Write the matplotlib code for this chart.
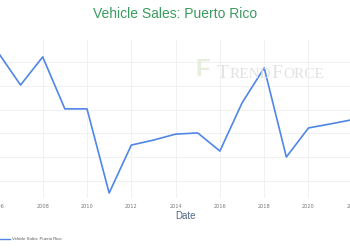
import matplotlib
matplotlib.use("Agg")
import matplotlib.pyplot as plt
from matplotlib.patches import Polygon

# Data (y axis labels are cropped in the source)
years = [2005, 2006, 2007, 2008, 2009, 2010, 2011, 2012, 2013, 2014,
         2015, 2016, 2017, 2018, 2019, 2020, 2021, 2022]
sales = [110.0, 113.8, 100.3, 112.1, 90.3, 90.3, 55.0, 75.1, 77.2, 79.7,
         80.2, 72.6, 92.8, 107.5, 70.1, 82.3, 84.0, 85.8]
tick_years = list(range(2006, 2023, 2))
grid_vals = [60, 70, 80, 90, 100, 110]

W, H = 350, 250
fig = plt.figure(figsize=(3.5, 2.5), dpi=100)
fig.patch.set_facecolor('white')

# plot area runs past both edges of the picture (cropped screenshot)
left_px, right_px = -30, 380
top_px, bottom_px = 40, 198
ax = fig.add_axes([left_px / W, 1 - bottom_px / H,
                   (right_px - left_px) / W, (bottom_px - top_px) / H])

line_color = '#4f86e8'
ax.plot(years, sales, color=line_color, linewidth=1.2, label='Vehicle Sales: Puerto Rico')

ax.set_xlim(2004.718, 2023.228)
ax.set_ylim(52.9, 119.2)
ax.set_xticks(tick_years)
ax.set_xticklabels([str(y) for y in tick_years])
ax.set_yticks(grid_vals)
ax.tick_params(axis='x', length=0, labelsize=3.6, labelcolor='#777777', pad=4)
ax.tick_params(axis='y', length=0, labelleft=False)
ax.grid(True, color='#efefef', linewidth=0.6)
ax.set_axisbelow(True)
for s in ax.spines.values():
    s.set_visible(False)

# watermark, small-caps look built from pieces
renderer = fig.canvas.get_renderer()
x = 217
for piece, size in [('T', 14), ('REND', 11), ('F', 14), ('ORCE', 11)]:
    t = fig.text(x / W, 1 - 78 / H, piece, family='Liberation Serif', fontsize=size,
                 color='#e2e2e2', ha='left', va='baseline', zorder=0)
    x += t.get_window_extent(renderer).width + 0.5
# logo: grey slanted block and a pale green F
logo = [(186, 82), (191, 58), (197, 58), (192, 82)]
fig.add_artist(Polygon([(px / W, 1 - py / H) for px, py in logo],
                       closed=True, transform=fig.transFigure,
                       facecolor='#ececec', edgecolor='none', zorder=0))
fig.text(203 / W, 1 - 70 / H, 'F', family='Liberation Sans', fontsize=17, weight='bold',
         color='#e6eedd', ha='center', va='center', zorder=0)

# title and axis title
fig.text(175 / W, 1 - 14 / H, 'Vehicle Sales: Puerto Rico', family='Liberation Sans',
         fontsize=10, color='#3a9b5e', ha='center', va='center')
fig.text(185 / W, 1 - 216 / H, 'Date', family='Liberation Sans', fontsize=7,
         color='#506784', ha='center', va='center')

# legend
fig.add_artist(plt.Line2D([0, 10 / W], [1 - 239 / H, 1 - 239 / H],
                          color=line_color, linewidth=1.0))
fig.text(12 / W, 1 - 239 / H, 'Vehicle Sales: Puerto Rico', family='Liberation Sans',
         fontsize=3.1, color='#555555', ha='left', va='center')

fig.savefig('out.png', dpi=100)
